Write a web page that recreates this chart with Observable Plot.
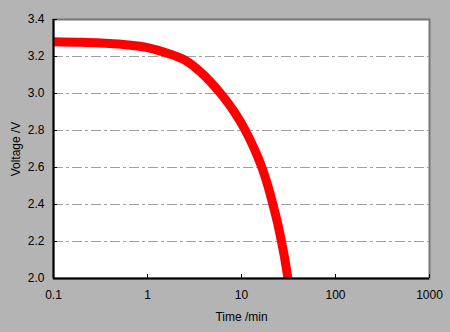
<!DOCTYPE html>
<html><head><meta charset="utf-8">
<script src="https://cdn.jsdelivr.net/npm/d3@7"></script>
<script src="https://cdn.jsdelivr.net/npm/@observablehq/plot@0.6"></script>
<style>
body{margin:0;background:#b4b4b4;}
#c{width:450px;height:332px;}
</style></head><body><div id="c"></div>
<script>
const timeMin = [0.1, 0.2, 0.5, 1, 1.63, 2.5, 3.6, 6, 8.4, 11, 13.7, 16.5, 19.1, 21.6, 24.2, 26.6, 29, 31.2];
const voltage = [3.28, 3.277, 3.267, 3.248, 3.218, 3.18, 3.12, 3.0, 2.9, 2.8, 2.7, 2.6, 2.5, 2.4, 2.3, 2.2, 2.1, 2.0];
const xTicks = [0.1, 1, 10, 100, 1000];
const yTicks = [2.0, 2.2, 2.4, 2.6, 2.8, 3.0, 3.2, 3.4];
const gridY = [2.2, 2.4, 2.6, 2.8, 3.0, 3.2];
const data = timeMin.map((t, i) => ({t, v: voltage[i]}));

const chart = Plot.plot({
  width: 450, height: 332,
  marginLeft: 53, marginRight: 21, marginTop: 19, marginBottom: 54,
  style: {background: "#b4b4b4", fontFamily: "Liberation Sans, Arial, sans-serif", fontSize: "12px", color: "#000"},
  x: {type: "log", domain: [0.1, 1000]},
  y: {domain: [2.0, 3.4]},
  marks: [
    Plot.frame({fill: "white", stroke: "#777", strokeWidth: 2}),
    Plot.ruleY(gridY, {stroke: "#a0a0a0", strokeWidth: 1, strokeDasharray: "10,3,3,3"}),
    Plot.line(data, {x: "t", y: "v", stroke: "#ff0000", strokeWidth: 9, clip: true, curve: "monotone-x"}),
    Plot.axisY(yTicks, {tickSize: -4, tickPadding: 13, tickFormat: d => d.toFixed(1), label: "Voltage /V", labelAnchor: "center", labelArrow: "none", labelOffset: 42, fontSize: 12}),
    Plot.axisX(xTicks, {tickSize: -4, tickPadding: 16, tickFormat: d => String(d), label: "Time /min", labelAnchor: "center", labelArrow: "none", labelOffset: 42, fontSize: 12}),
    Plot.ruleX([0.1], {stroke: "black", strokeWidth: 2}),
    Plot.ruleY([2.0], {stroke: "black", strokeWidth: 2})
  ]
});
document.getElementById("c").appendChild(chart);
</script></body></html>
